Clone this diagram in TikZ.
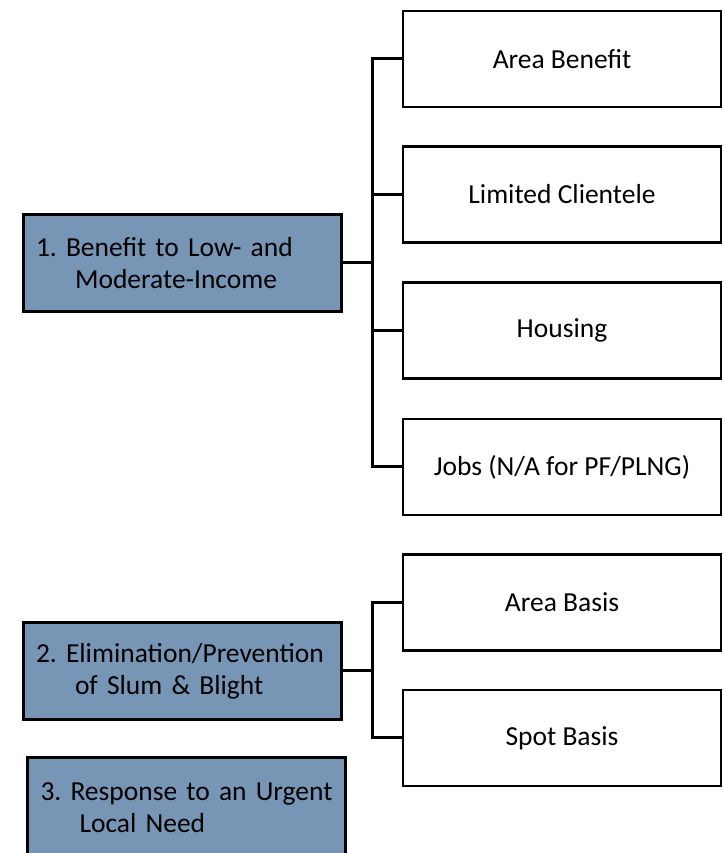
\documentclass[tikz,border=0pt]{standalone}
\usepackage{fontspec}
\setmainfont{Carlito}
\definecolor{natblue}{RGB}{119,149,181}
\begin{document}
\frenchspacing
\begin{tikzpicture}[x=1pt,y=1pt,
        objective/.style = {draw,line width=3pt,fill=natblue,minimum width=318pt,
            minimum height=97pt,text width=292pt,align=left,inner sep=0pt,
            font=\fontsize{27.5}{32}\selectfont},
        criteria/.style = {draw,line width=2.5pt,fill=white,minimum width=318pt,
            minimum height=96pt,align=center,inner sep=0pt,
            font=\fontsize{27.5}{32}\selectfont},
        link/.style = {line width=3pt}]
    \useasboundingbox (0,0) rectangle (723,853);

    % national objectives
    \node [objective] (lmi) at (182,590)
        {\mbox{1. Benefit to Low- and}\\\hspace*{39pt}Moderate-Income};
    \node [objective] (slum) at (182,182)
        {\mbox{2. Elimination/Prevention}\\\hspace*{39pt}of Slum \& Blight};
    \node [objective,minimum height=100pt] (urgent) at (186.5,45)
        {\mbox{3. Response to an Urgent}\\\hspace*{39pt}Local Need};

    % sub-categories
    \node [criteria] (area) at (562,794) {Area Benefit};
    \node [criteria] (clientele) at (562,658.5) {Limited Clientele};
    \node [criteria] (housing) at (562,522.5) {Housing};
    \node [criteria] (jobs) at (562,386) {Jobs (N/A for PF/PLNG)};
    \node [criteria] (areabasis) at (562,250.5) {Area Basis};
    \node [criteria] (spot) at (562,115) {Spot Basis};

    \coordinate (bus1) at (372,794);
    \coordinate (bus2) at (372,250.5);

    \draw [link] (area.west) -| (bus1) |- (jobs.west);
    \draw [link] (clientele.west) -- (clientele.west -| bus1);
    \draw [link] (housing.west) -- (housing.west -| bus1);
    \draw [link] (lmi.east) -- (lmi.east -| bus1);

    \draw [link] (areabasis.west) -| (bus2) |- (spot.west);
    \draw [link] (slum.east) -- (slum.east -| bus2);
\end{tikzpicture}
\end{document}
